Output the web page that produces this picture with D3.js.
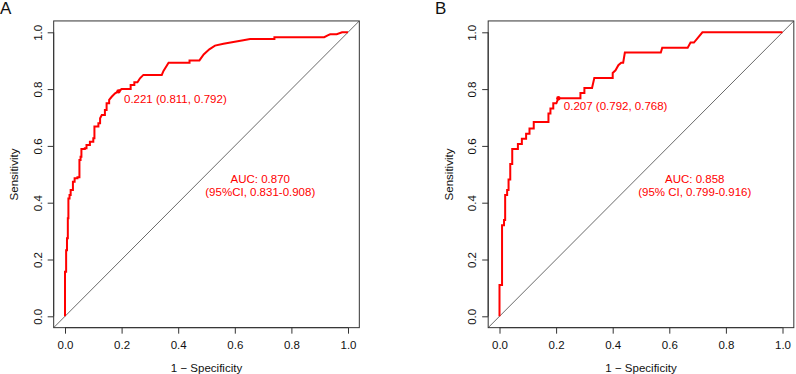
<!DOCTYPE html>
<html>
<head>
<meta charset="utf-8">
<script src="https://cdn.jsdelivr.net/npm/d3@7"></script>
<style>
  html, body { margin: 0; padding: 0; background: #fff; }
  svg { display: block; font-family: "Liberation Sans", Arial, Helvetica, sans-serif; }
</style>
</head>
<body>
<svg id="chart" width="796" height="374"></svg>
<script>
// ---------------- data ----------------
const panelLabels = ["A", "B"];
const tickValues = [0.0, 0.2, 0.4, 0.6, 0.8, 1.0];
const tickLabels = ["0.0", "0.2", "0.4", "0.6", "0.8", "1.0"];
const xTitle = "1 \u2212 Specificity";
const yTitle = "Sensitivity";

// Panel A ROC vertices (1 - specificity, sensitivity)
const fprA = [0,0,0.004,0.004,0.007,0.007,0.010,0.010,0.012,0.012,0.016,0.016,0.020,0.020,0.028,0.028,0.034,0.034,0.044,0.044,0.051,0.051,0.055,0.055,0.058,0.058,0.070,0.070,0.076,0.076,0.088,0.088,0.100,0.100,0.104,0.104,0.118,0.118,0.124,0.124,0.130,0.141,0.141,0.147,0.147,0.156,0.156,0.165,0.177,0.189,0.200,0.232,0.232,0.245,0.245,0.256,0.265,0.277,0.342,0.348,0.366,0.440,0.440,0.475,0.490,0.510,0.530,0.560,0.600,0.630,0.654,0.740,0.740,0.916,0.930,0.937,0.960,0.979,1.000];
const tprA = [0,0.157,0.157,0.233,0.233,0.275,0.275,0.345,0.345,0.415,0.415,0.427,0.427,0.445,0.445,0.474,0.474,0.486,0.486,0.490,0.490,0.550,0.550,0.562,0.562,0.589,0.589,0.592,0.592,0.603,0.603,0.615,0.615,0.627,0.627,0.668,0.668,0.680,0.680,0.697,0.709,0.709,0.726,0.726,0.750,0.750,0.762,0.773,0.785,0.792,0.800,0.800,0.814,0.814,0.824,0.824,0.838,0.850,0.850,0.864,0.893,0.893,0.901,0.901,0.922,0.940,0.953,0.960,0.967,0.972,0.976,0.976,0.983,0.983,0.990,0.993,0.993,1.000,1.000];

// Panel B ROC vertices
const fprB = [0,0,0.009,0.009,0.016,0.016,0.020,0.020,0.027,0.027,0.032,0.032,0.038,0.038,0.045,0.045,0.065,0.065,0.079,0.079,0.094,0.094,0.106,0.106,0.121,0.121,0.173,0.173,0.180,0.180,0.190,0.190,0.201,0.208,0.286,0.286,0.300,0.300,0.327,0.335,0.400,0.400,0.410,0.420,0.430,0.437,0.443,0.570,0.575,0.665,0.675,0.687,0.717,1.000];
const tprB = [0,0.110,0.110,0.321,0.321,0.339,0.339,0.427,0.427,0.445,0.445,0.482,0.482,0.536,0.536,0.589,0.589,0.607,0.607,0.625,0.625,0.643,0.643,0.661,0.661,0.684,0.684,0.714,0.714,0.732,0.732,0.750,0.750,0.768,0.768,0.786,0.786,0.804,0.804,0.839,0.839,0.857,0.866,0.884,0.893,0.893,0.929,0.929,0.946,0.946,0.964,0.964,1.000,1.000];

// best thresholds: [threshold, specificity, sensitivity]
const thresholdA = [0.221, 0.811, 0.792];
const thresholdB = [0.207, 0.792, 0.768];
const aucLinesA = ["AUC: 0.870", "(95%CI, 0.831-0.908)"];
const aucLinesB = ["AUC: 0.858", "(95% CI, 0.799-0.916)"];

// ---------------- drawing ----------------
const svg = d3.select("#chart");
const RED = "#ff0000";
const AXIS = "#333333";
const FS = 11.5;

const panels = [
  { label: panelLabels[0], fpr: fprA, tpr: tprA, thr: thresholdA, auc: aucLinesA, x0: 65.0, labelX: 0 },
  { label: panelLabels[1], fpr: fprB, tpr: tprB, thr: thresholdB, auc: aucLinesB, x0: 499.5, labelX: 435 }
];

panels.forEach(p => {
  const unit = 283;
  const x = d3.scaleLinear().domain([-0.04, 1.04]).range([p.x0 - 0.04 * unit, p.x0 + 1.04 * unit]);
  const y = d3.scaleLinear().domain([-0.04, 1.04]).range([316.3 + 0.04 * 284, 316.3 - 1.04 * 284]);
  const g = svg.append("g");

  // panel letter
  g.append("text").attr("x", p.labelX).attr("y", 13.5)
    .attr("font-size", 17).attr("fill", "#111").text(p.label);

  // clip path for plot region
  const clipId = "clip" + p.label;
  svg.append("clipPath").attr("id", clipId).append("rect")
    .attr("x", x(-0.04)).attr("y", y(1.04))
    .attr("width", x(1.04) - x(-0.04)).attr("height", y(-0.04) - y(1.04));

  // diagonal reference line
  g.append("line").attr("clip-path", `url(#${clipId})`)
    .attr("x1", x(-0.04)).attr("y1", y(-0.04)).attr("x2", x(1.04)).attr("y2", y(1.04))
    .attr("stroke", "#444").attr("stroke-width", 0.8);

  // box
  g.append("rect").attr("x", x(-0.04)).attr("y", y(1.04))
    .attr("width", x(1.04) - x(-0.04)).attr("height", y(-0.04) - y(1.04))
    .attr("fill", "none").attr("stroke", AXIS).attr("stroke-width", 1);

  // x axis
  const xAxis = d3.axisBottom(x).tickValues(tickValues)
    .tickFormat((d, i) => tickLabels[i]).tickSize(6).tickPadding(7);
  const gx = g.append("g").attr("transform", `translate(0,${y(-0.04)})`).call(xAxis);
  gx.select(".domain").attr("d", `M${x(0)},0H${x(1)}`).attr("stroke", AXIS);
  gx.selectAll(".tick line").attr("stroke", AXIS);
  gx.selectAll(".tick text").attr("font-size", FS).attr("fill", "#111")
    .attr("font-family", "Liberation Sans, Arial, sans-serif");

  // y axis
  const yAxis = d3.axisLeft(y).tickValues(tickValues)
    .tickFormat((d, i) => tickLabels[i]).tickSize(6);
  const gy = g.append("g").attr("transform", `translate(${x(-0.04)},0)`).call(yAxis);
  gy.select(".domain").attr("d", `M0,${y(0)}V${y(1)}`).attr("stroke", AXIS);
  gy.selectAll(".tick line").attr("stroke", AXIS);
  gy.selectAll(".tick text")
    .attr("x", null).attr("dy", null)
    .attr("text-anchor", "middle")
    .attr("transform", "translate(-16,0) rotate(-90) translate(0,4)")
    .attr("font-size", FS).attr("fill", "#111")
    .attr("font-family", "Liberation Sans, Arial, sans-serif");

  // axis titles
  g.append("text").attr("x", (x(0) + x(1)) / 2).attr("y", 371.5)
    .attr("text-anchor", "middle").attr("font-size", FS).attr("fill", "#111").text(xTitle);
  const ytx = x(-0.04) - 39.5, yty = 174.5;
  g.append("text").attr("transform", `translate(${ytx},${yty}) rotate(-90)`)
    .attr("text-anchor", "middle").attr("dy", 4).attr("font-size", FS).attr("fill", "#111").text(yTitle);

  // ROC curve
  const pts = p.fpr.map((d, i) => [d, p.tpr[i]]);
  const line = d3.line().x(d => x(d[0])).y(d => y(d[1]));
  g.append("path").datum(pts).attr("d", line)
    .attr("fill", "none").attr("stroke", RED).attr("stroke-width", 2)
    .attr("stroke-linejoin", "miter");

  // threshold point + label
  const tx = x(1 - p.thr[1]), ty = y(p.thr[2]);
  g.append("circle").attr("cx", tx).attr("cy", ty).attr("r", 2.2).attr("fill", RED);
  g.append("text").attr("x", tx + 5.5).attr("y", ty + 11.8)
    .attr("font-size", FS).attr("fill", RED)
    .text(`${p.thr[0].toFixed(3)} (${p.thr[1].toFixed(3)}, ${p.thr[2].toFixed(3)})`);

  // AUC text
  p.auc.forEach((t, i) => {
    g.append("text").attr("x", x(0.69)).attr("y", y(0.469) + i * 12.7)
      .attr("text-anchor", "middle").attr("font-size", FS).attr("fill", RED).text(t);
  });
});
</script>
</body>
</html>
